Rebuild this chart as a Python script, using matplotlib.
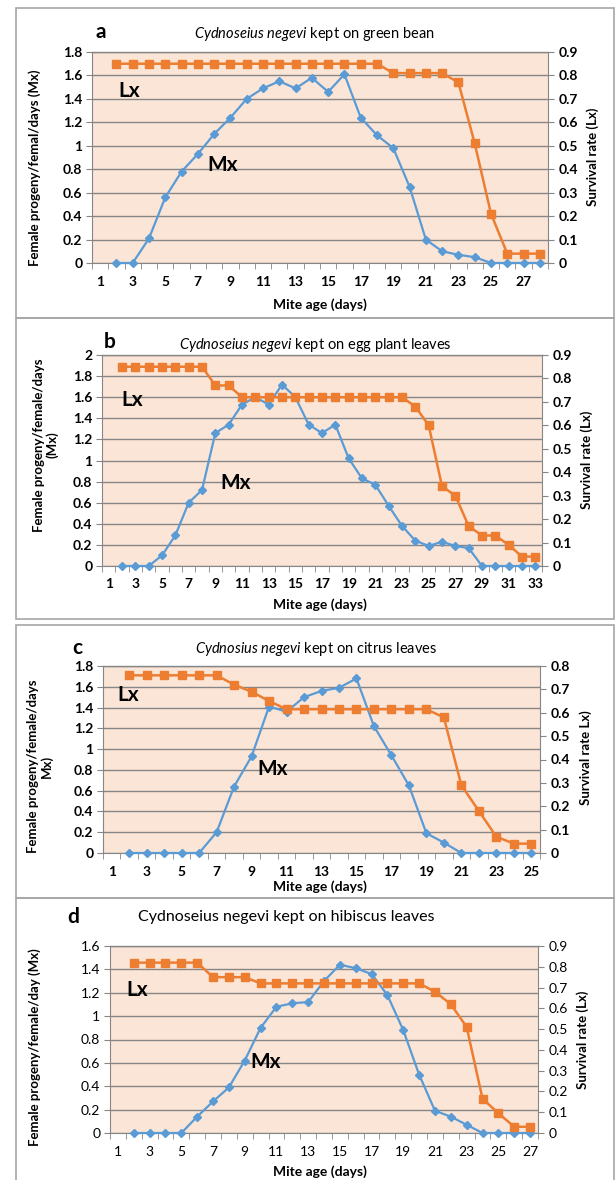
import numpy as np
import matplotlib
matplotlib.use("Agg")
import matplotlib.pyplot as plt
from matplotlib.patches import Rectangle
from matplotlib.ticker import FixedLocator, FuncFormatter

plt.rcParams['font.family'] = ['Lato', 'DejaVu Sans']
plt.rcParams['mathtext.fontset'] = 'custom'
plt.rcParams['mathtext.rm'] = 'Lato'
plt.rcParams['mathtext.it'] = 'Lato:italic'
plt.rcParams['mathtext.bf'] = 'Lato:bold'

# --- data ---
# a: green bean
days_a = [2, 3, 4, 5, 6, 7, 8, 9, 10, 11, 12, 13, 14, 15, 16, 17, 18, 19, 20,
          21, 22, 23, 24, 25, 26, 27, 28]
mx_a = [0, 0, 0.21, 0.56, 0.78, 0.93, 1.10, 1.24, 1.40, 1.49, 1.55, 1.49, 1.58,
        1.46, 1.61, 1.24, 1.09, 0.98, 0.65, 0.20, 0.10, 0.07, 0.05, 0, 0, 0, 0]
lx_a = [0.85, 0.85, 0.85, 0.85, 0.85, 0.85, 0.85, 0.85, 0.85, 0.85, 0.85, 0.85,
        0.85, 0.85, 0.85, 0.85, 0.85, 0.81, 0.81, 0.81, 0.81, 0.77, 0.51, 0.21,
        0.04, 0.04, 0.04]

# b: egg plant leaves
days_b = [2, 3, 4, 5, 6, 7, 8, 9, 10, 11, 12, 13, 14, 15, 16, 17, 18, 19, 20,
          21, 22, 23, 24, 25, 26, 27, 28, 29, 30, 31, 32, 33]
mx_b = [0, 0, 0, 0.10, 0.29, 0.60, 0.72, 1.26, 1.34, 1.53, 1.60, 1.53, 1.72,
        1.60, 1.34, 1.26, 1.34, 1.02, 0.83, 0.77, 0.57, 0.38, 0.24, 0.19, 0.23,
        0.19, 0.17, 0, 0, 0, 0, 0]
lx_b = [0.85, 0.85, 0.85, 0.85, 0.85, 0.85, 0.85, 0.77, 0.77, 0.72, 0.72, 0.72,
        0.72, 0.72, 0.72, 0.72, 0.72, 0.72, 0.72, 0.72, 0.72, 0.72, 0.68, 0.60,
        0.34, 0.30, 0.17, 0.13, 0.13, 0.09, 0.04, 0.04]

# c: citrus leaves
days_c = [2, 3, 4, 5, 6, 7, 8, 9, 10, 11, 12, 13, 14, 15, 16, 17, 18, 19, 20,
          21, 22, 23, 24, 25]
mx_c = [0, 0, 0, 0, 0, 0.20, 0.64, 0.93, 1.41, 1.36, 1.50, 1.56, 1.59, 1.68,
        1.22, 0.94, 0.65, 0.19, 0.10, 0, 0, 0, 0, 0]
lx_c = [0.76, 0.76, 0.76, 0.76, 0.76, 0.76, 0.72, 0.69, 0.65, 0.615, 0.615,
        0.615, 0.615, 0.615, 0.615, 0.615, 0.615, 0.615, 0.58, 0.29, 0.18, 0.07,
        0.04, 0.04]

# d: hibiscus leaves
days_d = [2, 3, 4, 5, 6, 7, 8, 9, 10, 11, 12, 13, 14, 15, 16, 17, 18, 19, 20,
          21, 22, 23, 24, 25, 26, 27]
mx_d = [0, 0, 0, 0, 0.14, 0.27, 0.39, 0.62, 0.90, 1.08, 1.11, 1.12, 1.30, 1.44,
        1.41, 1.36, 1.18, 0.88, 0.50, 0.19, 0.14, 0.07, 0, 0, 0, 0]
lx_d = [0.82, 0.82, 0.82, 0.82, 0.82, 0.75, 0.75, 0.75, 0.72, 0.72, 0.72, 0.72,
        0.72, 0.72, 0.72, 0.72, 0.72, 0.72, 0.72, 0.68, 0.62, 0.51, 0.165, 0.095,
        0.03, 0.03]

BLUE = '#5B9BD5'
ORANGE = '#ED7D31'
PEACH = '#FBE5D6'
GRID = '#868686'
AXIS = '#868686'
BORDER = '#A6A6A6'

W, H = 616, 1180
fig = plt.figure(figsize=(W / 100, H / 100), dpi=100)


def fx(x):
    return x / W


def fy(y):
    return 1 - y / H


# panel frames
for (l, t, r, b) in [(16, 8, 614, 318), (16, 318, 614, 619),
                     (16, 625, 614, 898), (16, 898, 614, 1190)]:
    fig.patches.append(Rectangle((fx(l), fy(b)), fx(r - l), (b - t) / H,
                                 transform=fig.transFigure, fill=False,
                                 edgecolor=BORDER, lw=1.2))


def fmt(v, pos):
    return f"{round(v, 2):g}"


def panel(days, mx, lx, box, mx_max, lx_max, last_day, letter, letter_xy,
          title, title_xy, title_size, ylabel, ylabel_xy, rlabel, rlabel_xy,
          xlabel_y, lx_txt, mx_txt, tick_weight='bold'):
    l, t, r, b = box
    ax = fig.add_axes([fx(l), fy(b), fx(r - l), (b - t) / H])
    ax.set_facecolor(PEACH)
    ax.set_xlim(0.5, last_day + 0.5)
    ax.set_ylim(0, mx_max)
    ax.set_yticks(np.arange(0, mx_max + 1e-6, 0.2))
    ax.yaxis.set_major_formatter(FuncFormatter(fmt))
    ax.xaxis.set_major_locator(FixedLocator(np.arange(1, last_day + 1, 2)))
    ax.xaxis.set_minor_locator(FixedLocator(np.arange(0.5, last_day + 1, 1)))
    ax.tick_params(axis='x', which='major', length=0, pad=9, labelsize=10)
    ax.tick_params(axis='x', which='minor', length=4, color=AXIS,
                   direction='out')
    ax.tick_params(axis='y', length=4, color=AXIS, direction='out', pad=3,
                   labelsize=10)
    for lab in ax.get_xticklabels() + ax.get_yticklabels():
        lab.set_fontweight(tick_weight)
    ax.yaxis.grid(True, color=GRID, lw=1.0)
    ax.set_axisbelow(True)
    for s in ['left', 'bottom', 'top']:
        ax.spines[s].set_color(AXIS)
    ax.spines['right'].set_visible(False)
    ax.spines['top'].set_color(GRID)
    ax.spines['top'].set_linewidth(1.0)

    ax.plot(days, mx, color=BLUE, marker='D', ms=4, lw=1.6, clip_on=False,
            zorder=3)

    ax2 = ax.twinx()
    ax2.set_ylim(0, lx_max)
    ax2.set_yticks(np.arange(0, lx_max + 1e-6, 0.1))
    ax2.yaxis.set_major_formatter(FuncFormatter(fmt))
    ax2.tick_params(axis='y', length=4, color=AXIS, direction='out', pad=4,
                    labelsize=10)
    for lab in ax2.get_yticklabels():
        lab.set_fontweight(tick_weight)
    for s in ['left', 'bottom', 'top']:
        ax2.spines[s].set_visible(False)
    ax2.spines['right'].set_color(AXIS)
    ax2.plot(days, lx, color=ORANGE, marker='s', ms=5.5, lw=1.8,
             clip_on=False, zorder=4)

    ax.text(*lx_txt, 'Lx', fontsize=15, fontweight='bold', ha='center',
            va='center', zorder=5)
    ax.text(*mx_txt, 'Mx', fontsize=15, fontweight='bold', ha='center',
            va='center', zorder=5)

    fig.text(fx(letter_xy[0]), fy(letter_xy[1]), letter, fontsize=15,
             fontweight='bold', ha='center', va='center')
    fig.text(fx(title_xy[0]), fy(title_xy[1]), title, fontsize=title_size,
             ha='center', va='center')
    fig.text(fx(ylabel_xy[0]), fy(ylabel_xy[1]), ylabel, fontsize=9.5,
             fontweight='bold', rotation=90, ha='center', va='center',
             multialignment='center', linespacing=1.1)
    fig.text(fx(rlabel_xy[0]), fy(rlabel_xy[1]), rlabel, fontsize=9.5,
             fontweight='bold', rotation=90, ha='center', va='center')
    fig.text(fx(320), fy(xlabel_y), 'Mite age (days)', fontsize=10,
             fontweight='bold', ha='center', va='center')


panel(days_a, mx_a, lx_a, (92, 52, 548, 263), 1.8, 0.9, 28,
      'a', (101, 32),
      r'$\mathit{Cydnoseius\ negevi}$ kept on green bean', (315, 34), 10.5,
      'Female progeny/femal/days (Mx)', (35, 168),
      'Survival rate (Lx)', (593, 157), 305,
      (2.8, 1.47), (8.5, 0.84))

panel(days_b, mx_b, lx_b, (102, 355, 542, 566), 2.0, 0.9, 33,
      'b', (110, 342),
      r'$\mathit{Cydnoseius\ negevi}$ kept on egg plant leaves', (315, 345),
      10.5,
      'Female progeny/female/days\n(Mx)', (46, 445),
      'Survival rate (Lx)', (587, 460), 605,
      (2.8, 1.57), (10.5, 0.79))

panel(days_c, mx_c, lx_c, (103, 666, 540, 853), 1.8, 0.8, 25,
      'c', (77, 648),
      r'$\mathit{Cydnosius\ negevi}$ kept on citrus leaves', (316, 649), 10.5,
      'Female progeny/female/days\nMx)', (40, 766),
      'Survival rate Lx)', (586, 758), 887,
      (1.95, 1.52), (10.2, 0.81))

panel(days_d, mx_d, lx_d, (110, 946, 538, 1133), 1.6, 0.9, 27,
      'd', (73, 917),
      'Cydnoseius negevi kept on hibiscus leaves', (286, 917), 11.5,
      'Female progeny/female/day (Mx)', (35, 1047),
      'Survival rate (Lx)', (583, 1040), 1172,
      (2.2, 1.22), (10.3, 0.61), tick_weight='normal')

fig.savefig('out.png', dpi=100, facecolor='white')
